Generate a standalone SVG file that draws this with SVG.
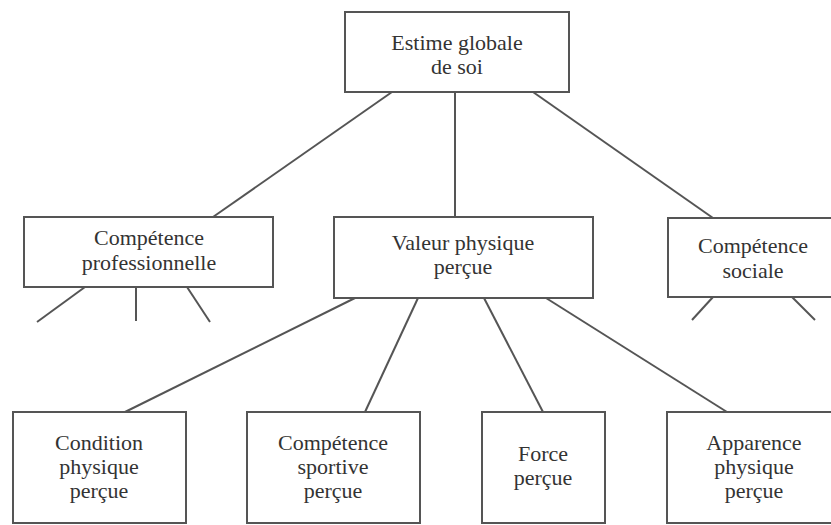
<svg xmlns="http://www.w3.org/2000/svg" width="831" height="525" viewBox="0 0 831 525">
<style>
.box{fill:#fff;stroke:#555;stroke-width:2}
.c line{stroke:#555;stroke-width:2}
</style>
<rect width="831" height="525" fill="#fff"/>
<g class="c" id="connectors">
<line x1="392" y1="92" x2="213" y2="217"/>
<line x1="455" y1="92" x2="455" y2="217"/>
<line x1="533" y1="92" x2="713" y2="218"/>
<line x1="85" y1="287" x2="37" y2="322"/>
<line x1="136" y1="287" x2="136" y2="321"/>
<line x1="187" y1="287" x2="210" y2="322"/>
<line x1="713" y1="297" x2="692" y2="320"/>
<line x1="792" y1="297" x2="815" y2="320"/>
<line x1="355" y1="298" x2="125" y2="412"/>
<line x1="418" y1="298" x2="365" y2="412"/>
<line x1="484" y1="298" x2="543" y2="412"/>
<line x1="546" y1="298" x2="727" y2="412"/>
</g>
<g font-family="Liberation Serif, Times New Roman, serif" font-size="22" fill="#333" text-anchor="middle">
<g id="estime">
<rect class="box" x="345" y="12" width="224" height="80"/>
<text x="457" y="50">Estime globale</text>
<text x="457" y="74">de soi</text>
</g>
<g id="professionnelle">
<rect class="box" x="24" y="217" width="249" height="70"/>
<text x="149" y="245">Compétence</text>
<text x="149" y="270">professionnelle</text>
</g>
<g id="valeur">
<rect class="box" x="334" y="217" width="259" height="81"/>
<text x="463" y="250">Valeur physique</text>
<text x="463" y="274">perçue</text>
</g>
<g id="sociale">
<rect class="box" x="668" y="218" width="175" height="79"/>
<text x="753" y="253">Compétence</text>
<text x="753" y="278">sociale</text>
</g>
<g id="condition">
<rect class="box" x="13" y="412" width="173" height="111"/>
<text x="99" y="450">Condition</text>
<text x="99" y="474">physique</text>
<text x="99" y="498">perçue</text>
</g>
<g id="sportive">
<rect class="box" x="247" y="412" width="173" height="111"/>
<text x="333" y="450">Compétence</text>
<text x="333" y="474">sportive</text>
<text x="333" y="498">perçue</text>
</g>
<g id="force">
<rect class="box" x="482" y="412" width="123" height="111"/>
<text x="543" y="461">Force</text>
<text x="543" y="485">perçue</text>
</g>
<g id="apparence">
<rect class="box" x="667" y="412" width="176" height="111"/>
<text x="754" y="450">Apparence</text>
<text x="754" y="474">physique</text>
<text x="754" y="498">perçue</text>
</g>
</g>
</svg>
